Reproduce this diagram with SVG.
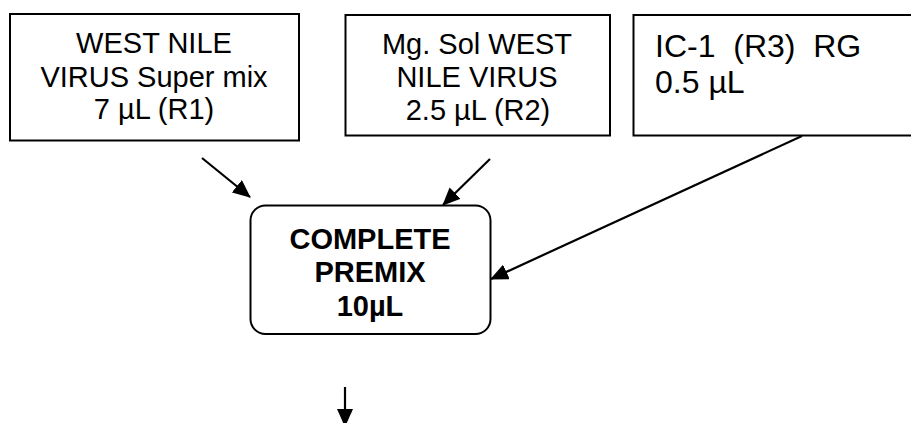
<svg xmlns="http://www.w3.org/2000/svg" width="911" height="423" viewBox="0 0 911 423">
<style>
  .box{fill:#fff;stroke:#000;stroke-width:2}
  .t{font-family:"Liberation Sans",Arial,sans-serif;font-size:29px;fill:#000}
  .c{text-anchor:middle}
  .b{font-weight:bold}
  .big{font-size:32px}
  .conn{stroke:#000;stroke-width:2.2;fill:none;marker-end:url(#ah)}
</style>
<defs>
  <marker id="ah" markerUnits="userSpaceOnUse" viewBox="0 0 18 16" markerWidth="18" markerHeight="16" refX="17" refY="8" orient="auto">
    <path d="M0,0 L18,8 L0,16 z" fill="#000"/>
  </marker>
</defs>
<rect width="911" height="423" fill="#fff"/>
<g id="connectors">
  <line class="conn" x1="202" y1="158" x2="250" y2="197"/>
  <line class="conn" x1="490" y1="159" x2="443" y2="205"/>
  <line class="conn" x1="802" y1="136" x2="491" y2="279"/>
  <line class="conn" x1="345" y1="387" x2="345" y2="426"/>
</g>
<g id="node-r1">
  <rect class="box" x="10" y="14" width="289" height="126.5"/>
  <text class="t c" x="154" y="53">WEST NILE</text>
  <text class="t c" x="154" y="86.5">VIRUS Super mix</text>
  <text class="t c" x="154" y="119">7 µL (R1)</text>
</g>
<g id="node-r2">
  <rect class="box" x="345.5" y="15" width="264.5" height="120.5"/>
  <text class="t c" x="477" y="54">Mg. Sol WEST</text>
  <text class="t c" x="477" y="87">NILE VIRUS</text>
  <text class="t c" x="478" y="120">2.5 µL (R2)</text>
</g>
<g id="node-r3">
  <rect class="box" x="633.5" y="15" width="290" height="120.5"/>
  <text class="t big" x="655" y="56.5" xml:space="preserve">IC-1  (R3)  RG</text>
  <text class="t big" x="655" y="93">0.5 µL</text>
</g>
<g id="node-premix">
  <rect class="box" x="250.5" y="205.5" width="240" height="128.5" rx="15" ry="15"/>
  <text class="t c b" x="370" y="249">COMPLETE</text>
  <text class="t c b" x="370" y="282">PREMIX</text>
  <text class="t c b" x="370" y="316">10µL</text>
</g>
</svg>
